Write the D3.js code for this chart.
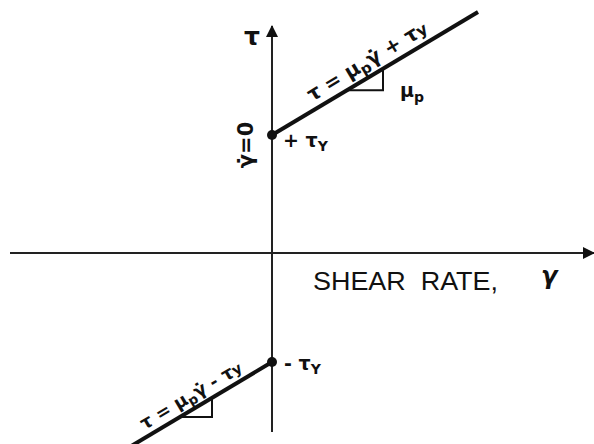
<!DOCTYPE html>
<html>
<head>
<meta charset="utf-8">
<script src="https://cdn.jsdelivr.net/npm/d3@7"></script>
<style>
  html, body { margin: 0; padding: 0; background: #fff; }
  svg { display: block; }
  .hand { font-family: "DejaVu Sans", sans-serif; font-weight: bold; fill: #111; }
  .caption { font-family: "Liberation Sans", Arial, sans-serif; fill: #111; white-space: pre; }
</style>
</head>
<body>
<svg id="chart" width="594" height="444"></svg>
<script>
// Bingham plastic: tau = mu_p * gammaDot ± tau_y
const yieldStress = [118, -109];          // stress intercepts at gammaDot = 0 (upper, lower branch)
const plasticViscosity = 0.597;           // slope mu_p
const upperBranchRate = [0, 206];         // shear-rate span of the positive branch
const lowerBranchRate = [-150, 0];        // shear-rate span of the negative branch
const slopeMarkUpper = [75, 111];         // shear-rate span of the slope triangle, upper branch
const slopeMarkLower = [-92, -60];        // shear-rate span of the slope triangle, lower branch
const rateAxisSpan = [-262, 322];
const stressAxisSpan = [-179, 227];

const svg = d3.select("#chart");

const x = d3.scaleLinear().domain([-272, 322]).range([0, 594]);
const y = d3.scaleLinear().domain([-191, 253]).range([444, 0]);

const tau = (g, ty) => plasticViscosity * g + ty;

// arrowhead
svg.append("defs").append("marker")
  .attr("id", "arrow").attr("viewBox", "0 0 12 12")
  .attr("refX", 11).attr("refY", 6)
  .attr("markerWidth", 12).attr("markerHeight", 12)
  .attr("markerUnits", "userSpaceOnUse")
  .attr("orient", "auto")
  .append("path").attr("d", "M0,0 L12,6 L0,12 Z").attr("fill", "#111");

// axes
svg.append("line")
  .attr("x1", x(rateAxisSpan[0])).attr("x2", x(rateAxisSpan[1]))
  .attr("y1", y(0)).attr("y2", y(0))
  .attr("stroke", "#222").attr("stroke-width", 2)
  .attr("marker-end", "url(#arrow)");
svg.append("line")
  .attr("x1", x(0)).attr("x2", x(0))
  .attr("y1", y(stressAxisSpan[0])).attr("y2", y(stressAxisSpan[1]))
  .attr("stroke", "#222").attr("stroke-width", 2)
  .attr("marker-end", "url(#arrow)");

// flow curves
const line = d3.line().x(d => x(d[0])).y(d => y(d[1]));
svg.append("path")
  .attr("d", line(upperBranchRate.map(g => [g, tau(g, yieldStress[0])])))
  .attr("stroke", "#111").attr("stroke-width", 4).attr("fill", "none");
svg.append("path")
  .attr("d", line(lowerBranchRate.map(g => [g, tau(g, yieldStress[1])])))
  .attr("stroke", "#111").attr("stroke-width", 4).attr("fill", "none");

// slope triangles
function slopeTriangle(span, ty) {
  const [a, b] = span;
  const pts = [[a, tau(a, ty)], [b, tau(a, ty)], [b, tau(b, ty)]];
  svg.append("path").attr("d", line(pts))
    .attr("stroke", "#111").attr("stroke-width", 2).attr("fill", "none");
}
slopeTriangle(slopeMarkUpper, yieldStress[0]);
slopeTriangle(slopeMarkLower, yieldStress[1]);

// yield points
svg.selectAll("circle.yield").data(yieldStress).enter().append("circle")
  .attr("class", "yield")
  .attr("cx", x(0)).attr("cy", d => y(d)).attr("r", 5).attr("fill", "#111");

const angle = -Math.atan(plasticViscosity) * 180 / Math.PI;

// equations along the branches
function equation(g, ty, offset, size, sign) {
  const px = x(g), py = y(tau(g, ty));
  const t = svg.append("text").attr("class", "hand")
    .attr("transform", `translate(${px},${py}) rotate(${angle}) translate(0,${-offset})`)
    .attr("font-size", size);
  t.append("tspan").text("τ = μ");
  t.append("tspan").attr("font-size", size * 0.75).attr("dy", size * 0.2).text("p");
  t.append("tspan").attr("dy", -size * 0.2).text("γ̇ " + sign + " τ");
  t.append("tspan").attr("font-size", size * 0.8).text("y");
}
equation(44, yieldStress[0], 8, 20, "+");
equation(-124, yieldStress[1], 7, 18, "-");

// mu_p next to the upper slope triangle
const mu = svg.append("text").attr("class", "hand").attr("font-size", 19)
  .attr("x", x(128)).attr("y", y(156));
mu.append("tspan").text("μ");
mu.append("tspan").attr("font-size", 14).attr("dy", 5).text("p");

// yield stress labels
function yieldLabel(ty, sign, dx, dy) {
  const t = svg.append("text").attr("class", "hand").attr("font-size", 19)
    .attr("x", x(0) + dx).attr("y", y(ty) + dy);
  t.append("tspan").text(sign + " τ");
  t.append("tspan").attr("font-size", 14).attr("dy", 4).text("Y");
}
yieldLabel(yieldStress[0], "+", 11, 12);
yieldLabel(yieldStress[1], "-", 12, 8);

// axis labels
svg.append("text").attr("class", "hand").attr("font-size", 25)
  .attr("x", x(0) - 28).attr("y", y(208)).text("τ");

svg.append("text").attr("class", "hand").attr("font-size", 21)
  .attr("transform", `translate(${x(0) - 19},${y(108)}) rotate(-90)`)
  .attr("text-anchor", "middle").text("γ̇=0");

svg.append("text").attr("class", "caption").attr("font-size", 25)
  .attr("x", x(41)).attr("y", y(-37))
  .attr("textLength", 185).attr("lengthAdjust", "spacingAndGlyphs")
  .text("SHEAR  RATE,");

svg.append("text").attr("class", "hand").attr("font-size", 24)
  .attr("font-style", "italic").attr("font-weight", "normal")
  .attr("x", x(269)).attr("y", y(-31)).text("γ");
</script>
</body>
</html>
